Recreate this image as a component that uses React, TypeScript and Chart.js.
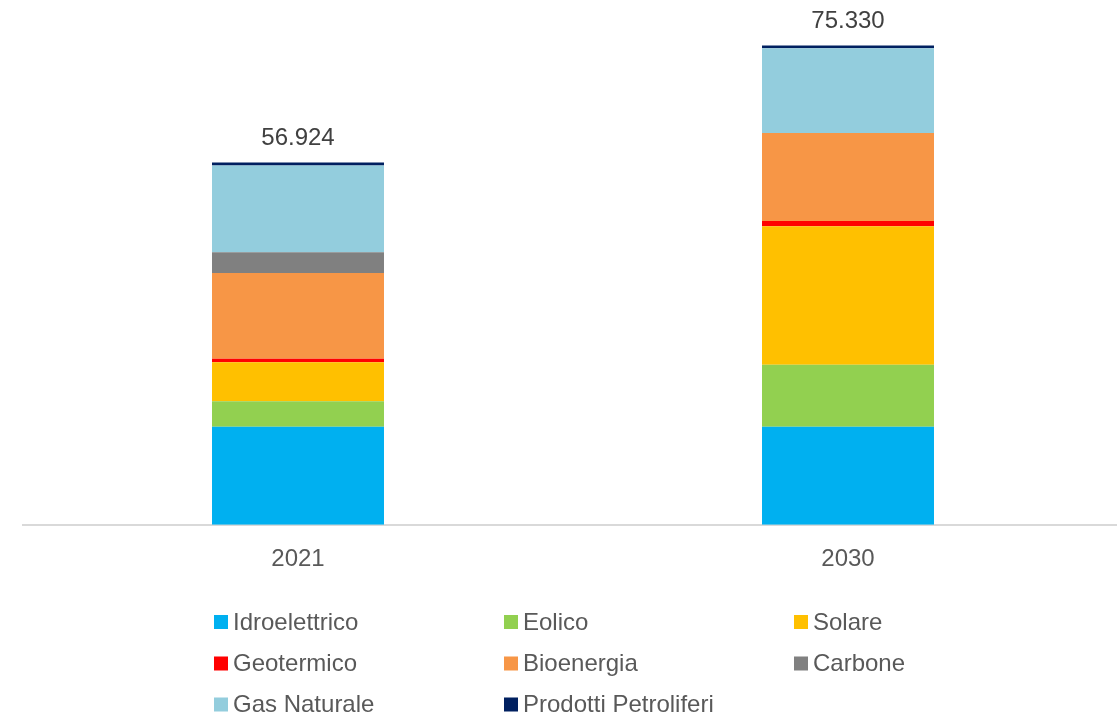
import React, { useEffect, useRef } from "react";
import { Chart, registerables } from "chart.js";

Chart.register(...registerables);

const categories = ["2021", "2030"];
const seriesNames = [
  "Idroelettrico",
  "Eolico",
  "Solare",
  "Geotermico",
  "Bioenergia",
  "Carbone",
  "Gas Naturale",
  "Prodotti Petroliferi",
];
const idroelettrico = [15410, 15406];
const eolico = [3994, 9746];
const solare = [6133, 21772];
const geotermico = [566, 833];
const bioenergia = [13476, 13834];
const carbone = [3255, 0];
const gasNaturale = [13618, 13315];
const prodottiPetroliferi = [472, 424];
const seriesValues = [
  idroelettrico,
  eolico,
  solare,
  geotermico,
  bioenergia,
  carbone,
  gasNaturale,
  prodottiPetroliferi,
];
const seriesColors = [
  "#00B0F0",
  "#92D050",
  "#FFC000",
  "#FF0000",
  "#F79646",
  "#808080",
  "#93CDDD",
  "#002060",
];

const FONT = '"Liberation Sans", Arial, sans-serif';

function formatIt(n: number): string {
  return Math.round(n)
    .toString()
    .replace(/\B(?=(\d{3})+(?!\d))/g, ".");
}

const totalsPlugin = {
  id: "totalsPlugin",
  afterDatasetsDraw(chart: any) {
    const ctx = chart.ctx;
    const last = chart.data.datasets.length - 1;
    const meta = chart.getDatasetMeta(last);
    ctx.save();
    ctx.font = `24px ${FONT}`;
    ctx.fillStyle = "#404040";
    ctx.textAlign = "center";
    ctx.textBaseline = "middle";
    categories.forEach((_, i) => {
      const total = seriesValues.reduce((s, arr) => s + arr[i], 0);
      const el = meta.data[i];
      ctx.fillText(formatIt(total), el.x, el.y - 24);
    });
    ctx.restore();
  },
};

const gridLegendPlugin = {
  id: "gridLegendPlugin",
  afterDraw(chart: any) {
    const ctx = chart.ctx;
    const colX = [214, 504, 794];
    const rowY = [622, 663.5, 704.5];
    const box = 14;
    ctx.save();
    ctx.font = `24px ${FONT}`;
    ctx.textBaseline = "middle";
    ctx.textAlign = "left";
    seriesNames.forEach((name, k) => {
      const c = k % 3;
      const r = Math.floor(k / 3);
      const x = colX[c];
      const y = rowY[r];
      ctx.fillStyle = seriesColors[k];
      ctx.fillRect(x, y - box / 2, box, box);
      ctx.fillStyle = "#595959";
      ctx.fillText(name, x + box + 5, y + 1);
    });
    ctx.restore();
  },
};

export default function App() {
  const canvasRef = useRef<HTMLCanvasElement | null>(null);

  useEffect(() => {
    document.body.style.margin = "0";
    const canvas = canvasRef.current;
    if (!canvas) return;
    const chart = new Chart(canvas, {
      type: "bar",
      data: {
        labels: categories,
        datasets: seriesNames.map((name, k) => ({
          label: name,
          data: seriesValues[k],
          backgroundColor: seriesColors[k],
          borderWidth: 0,
          barPercentage: 1,
          categoryPercentage: 0.3127,
        })),
      },
      options: {
        animation: false,
        responsive: false,
        maintainAspectRatio: false,
        layout: {
          padding: { left: 23, right: 0, top: 15.8, bottom: 123.5 },
        },
        plugins: {
          legend: { display: false },
          tooltip: { enabled: false },
          title: { display: false },
        },
        scales: {
          x: {
            stacked: true,
            offset: true,
            grid: { display: false, drawTicks: false },
            border: { display: true, color: "#D9D9D9", width: 2 },
            ticks: {
              color: "#595959",
              font: { family: FONT, size: 24 },
              padding: 20,
            },
          },
          y: {
            stacked: true,
            display: false,
            min: 0,
            max: 80000,
          },
        },
      },
      plugins: [totalsPlugin, gridLegendPlugin],
    });
    return () => chart.destroy();
  }, []);

  return (
    <div
      style={{
        position: "fixed",
        left: 0,
        top: 0,
        width: 1117,
        height: 717,
        overflow: "hidden",
        background: "#ffffff",
      }}
    >
      <canvas ref={canvasRef} width={1123} height={717} style={{ display: "block" }} />
    </div>
  );
}
